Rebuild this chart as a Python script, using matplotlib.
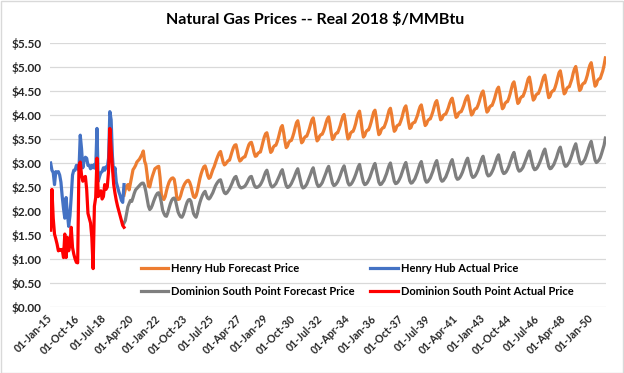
import pandas as pd
import numpy as np
from matplotlib import pyplot as plt
from matplotlib.patches import Rectangle

# monthly data, Jan-2015 .. Dec-2050 (category axis like the Excel original)
start_month = '2015-01-01'
end_month = '2050-12-01'
forecast_start = '2019-10-01'

# Henry Hub actual, Jan-2015 .. Oct-2019
hh_actual = [
    3.00, 2.85, 2.80, 2.55, 2.82, 2.80, 2.82, 2.75, 2.60, 2.30, 2.05, 1.85,
    2.28, 1.95, 1.68, 1.90, 2.30, 2.75, 2.85, 2.85, 2.95, 2.90, 2.85, 3.58,
    3.30, 2.90, 3.05, 3.12, 3.10, 2.95, 2.95, 2.88, 2.95, 2.90, 2.97, 2.88,
    3.72, 2.62, 2.72, 2.80, 2.82, 2.90, 2.85, 2.92, 2.90, 3.10, 4.07, 3.90,
    3.15, 2.75, 2.90, 2.60, 2.50, 2.40, 2.32, 2.22, 2.18, 2.55,
]

# Dominion South Point actual, Jan-2015 .. Oct-2019
dsp_actual = [
    1.60, 2.45, 1.85, 1.52, 1.42, 1.31, 1.17, 1.20, 1.18, 1.20, 1.03, 1.52,
    1.03, 1.45, 1.17, 1.30, 1.66, 1.24, 1.10, 1.00, 0.93, 0.92, 2.95, 3.02,
    2.75, 2.62, 2.70, 2.72, 2.45, 1.95, 1.85, 1.75, 1.45, 0.80, 2.10, 2.28,
    3.10, 2.30, 2.38, 2.42, 2.25, 2.30, 2.55, 2.45, 2.50, 2.83, 3.72, 3.30,
    2.90, 2.55, 2.37, 2.22, 2.10, 2.00, 1.90, 1.80, 1.70, 1.66,
]

# Henry Hub forecast, Oct-2019 .. Dec-2050
hh_forecast = [
    2.33, 2.45, 2.52,
    2.55, 2.44, 2.58, 2.72, 2.86, 2.90, 2.95, 3.02, 3.05, 3.08, 3.13, 3.18,
    3.25, 3.04, 2.96, 2.75, 2.52, 2.50, 2.62, 2.72, 2.80, 2.88, 2.90, 2.92,
    2.93, 2.70, 2.36, 2.26, 2.24, 2.30, 2.42, 2.52, 2.60, 2.65, 2.68, 2.69,
    2.66, 2.50, 2.28, 2.24, 2.25, 2.32, 2.42, 2.50, 2.56, 2.60, 2.63, 2.64,
    2.60, 2.52, 2.40, 2.30, 2.28, 2.32, 2.42, 2.55, 2.68, 2.78, 2.86, 2.92,
    2.94, 2.86, 2.74, 2.68, 2.70, 2.78, 2.86, 2.92, 3.00, 3.08, 3.15, 3.21,
    3.24, 3.13, 3.02, 2.96, 2.98, 3.02, 3.05, 3.06, 3.15, 3.24, 3.32, 3.37,
    3.38, 3.26, 3.12, 3.04, 3.06, 3.10, 3.12, 3.13, 3.21, 3.30, 3.38, 3.42,
    3.43, 3.34, 3.22, 3.14, 3.15, 3.20, 3.22, 3.23, 3.33, 3.44, 3.54, 3.61,
    3.63, 3.51, 3.34, 3.22, 3.25, 3.33, 3.36, 3.37, 3.44, 3.53, 3.64, 3.74,
    3.78, 3.64, 3.46, 3.32, 3.35, 3.43, 3.46, 3.47, 3.54, 3.63, 3.74, 3.84,
    3.88, 3.74, 3.56, 3.42, 3.45, 3.52, 3.55, 3.56, 3.63, 3.71, 3.81, 3.90,
    3.94, 3.80, 3.60, 3.46, 3.49, 3.56, 3.59, 3.60, 3.66, 3.74, 3.84, 3.92,
    3.96, 3.82, 3.63, 3.49, 3.52, 3.59, 3.62, 3.63, 3.70, 3.78, 3.88, 3.97,
    4.01, 3.86, 3.65, 3.50, 3.53, 3.62, 3.65, 3.66, 3.73, 3.82, 3.94, 4.03,
    4.08, 3.92, 3.70, 3.54, 3.57, 3.65, 3.68, 3.69, 3.76, 3.85, 3.96, 4.06,
    4.10, 3.95, 3.74, 3.59, 3.62, 3.70, 3.73, 3.74, 3.81, 3.89, 4.00, 4.10,
    4.14, 4.00, 3.80, 3.66, 3.69, 3.77, 3.79, 3.80, 3.87, 3.95, 4.06, 4.15,
    4.19, 4.05, 3.86, 3.72, 3.74, 3.82, 3.84, 3.85, 3.92, 3.99, 4.09, 4.17,
    4.21, 4.08, 3.91, 3.78, 3.81, 3.88, 3.91, 3.92, 3.99, 4.07, 4.17, 4.26,
    4.30, 4.18, 4.02, 3.90, 3.92, 3.99, 4.01, 4.02, 4.08, 4.15, 4.24, 4.31,
    4.35, 4.23, 4.07, 3.95, 3.97, 4.04, 4.06, 4.07, 4.13, 4.20, 4.29, 4.36,
    4.40, 4.28, 4.12, 4.00, 4.03, 4.10, 4.13, 4.14, 4.20, 4.28, 4.38, 4.46,
    4.50, 4.37, 4.19, 4.06, 4.09, 4.16, 4.19, 4.20, 4.27, 4.35, 4.45, 4.54,
    4.58, 4.45, 4.27, 4.13, 4.16, 4.24, 4.27, 4.28, 4.35, 4.44, 4.55, 4.65,
    4.69, 4.56, 4.38, 4.24, 4.27, 4.35, 4.38, 4.39, 4.46, 4.54, 4.65, 4.75,
    4.79, 4.65, 4.45, 4.31, 4.34, 4.41, 4.44, 4.45, 4.52, 4.60, 4.70, 4.79,
    4.83, 4.69, 4.50, 4.36, 4.39, 4.47, 4.50, 4.51, 4.58, 4.67, 4.78, 4.88,
    4.92, 4.78, 4.58, 4.44, 4.47, 4.55, 4.58, 4.59, 4.67, 4.75, 4.87, 4.96,
    5.01, 4.86, 4.66, 4.51, 4.54, 4.63, 4.66, 4.67, 4.74, 4.83, 4.95, 5.04,
    5.09, 4.94, 4.75, 4.60, 4.63, 4.72, 4.75, 4.76, 4.84, 4.92, 5.04, 5.19,
]

# Dominion South Point forecast, Oct-2019 .. Dec-2050
dsp_forecast = [
    1.75, 1.80, 1.95,
    2.09, 2.16, 2.22, 2.20, 2.28, 2.37, 2.44, 2.47, 2.50, 2.53, 2.56, 2.58,
    2.58, 2.52, 2.40, 2.25, 2.10, 2.03, 2.06, 2.12, 2.20, 2.27, 2.33, 2.37,
    2.38, 2.30, 2.18, 2.02, 1.95, 1.90, 1.89, 1.96, 2.06, 2.15, 2.22, 2.26,
    2.27, 2.22, 2.10, 1.98, 1.92, 1.88, 1.87, 1.92, 2.00, 2.10, 2.18, 2.23,
    2.24, 2.20, 2.08, 1.95, 1.90, 1.87, 1.95, 2.08, 2.18, 2.26, 2.33, 2.38,
    2.41, 2.33, 2.27, 2.25, 2.28, 2.33, 2.38, 2.45, 2.52, 2.57, 2.61, 2.64,
    2.65, 2.56, 2.45, 2.38, 2.36, 2.38, 2.42, 2.46, 2.52, 2.58, 2.65, 2.70,
    2.72, 2.64, 2.55, 2.50, 2.48, 2.49, 2.50, 2.52, 2.56, 2.61, 2.67, 2.71,
    2.72, 2.64, 2.55, 2.50, 2.49, 2.50, 2.52, 2.55, 2.60, 2.66, 2.74, 2.81,
    2.85, 2.75, 2.63, 2.54, 2.50, 2.51, 2.54, 2.57, 2.63, 2.69, 2.75, 2.82,
    2.86, 2.75, 2.63, 2.53, 2.49, 2.50, 2.53, 2.57, 2.63, 2.69, 2.76, 2.83,
    2.88, 2.76, 2.63, 2.53, 2.48, 2.49, 2.52, 2.56, 2.63, 2.70, 2.77, 2.85,
    2.90, 2.78, 2.66, 2.56, 2.51, 2.52, 2.55, 2.59, 2.66, 2.73, 2.80, 2.88,
    2.93, 2.81, 2.68, 2.58, 2.53, 2.54, 2.57, 2.61, 2.67, 2.74, 2.82, 2.89,
    2.94, 2.82, 2.69, 2.59, 2.54, 2.55, 2.58, 2.63, 2.69, 2.76, 2.84, 2.92,
    2.97, 2.84, 2.71, 2.60, 2.55, 2.56, 2.59, 2.64, 2.70, 2.78, 2.86, 2.94,
    2.99, 2.86, 2.72, 2.60, 2.55, 2.56, 2.60, 2.64, 2.71, 2.78, 2.87, 2.95,
    3.00, 2.87, 2.73, 2.62, 2.57, 2.58, 2.61, 2.66, 2.72, 2.80, 2.88, 2.96,
    3.01, 2.88, 2.74, 2.63, 2.58, 2.59, 2.63, 2.67, 2.74, 2.81, 2.90, 2.98,
    3.03, 2.90, 2.76, 2.65, 2.60, 2.61, 2.65, 2.69, 2.76, 2.83, 2.92, 3.00,
    3.05, 2.92, 2.78, 2.67, 2.62, 2.63, 2.67, 2.71, 2.78, 2.85, 2.94, 3.02,
    3.07, 2.95, 2.82, 2.71, 2.66, 2.67, 2.70, 2.75, 2.81, 2.89, 2.97, 3.05,
    3.10, 2.98, 2.85, 2.75, 2.70, 2.71, 2.74, 2.79, 2.85, 2.93, 3.01, 3.09,
    3.14, 3.02, 2.89, 2.78, 2.73, 2.74, 2.77, 2.82, 2.88, 2.96, 3.04, 3.12,
    3.17, 3.05, 2.93, 2.83, 2.78, 2.79, 2.82, 2.87, 2.93, 3.01, 3.09, 3.17,
    3.22, 3.10, 2.98, 2.88, 2.83, 2.84, 2.87, 2.91, 2.98, 3.05, 3.12, 3.20,
    3.25, 3.13, 3.01, 2.91, 2.86, 2.87, 2.90, 2.95, 3.01, 3.08, 3.16, 3.24,
    3.29, 3.17, 3.04, 2.93, 2.88, 2.89, 2.93, 2.97, 3.04, 3.11, 3.20, 3.28,
    3.33, 3.21, 3.08, 2.98, 2.93, 2.94, 2.98, 3.02, 3.09, 3.17, 3.26, 3.34,
    3.40, 3.27, 3.14, 3.03, 2.98, 2.99, 3.03, 3.07, 3.14, 3.22, 3.31, 3.39,
    3.45, 3.32, 3.18, 3.06, 3.01, 3.03, 3.06, 3.11, 3.19, 3.28, 3.37, 3.52,
]

title = 'Natural Gas Prices -- Real 2018 $/MMBtu'
label_every = 21


def gas_plot():
    plt.rcParams['font.family'] = ['Lato', 'DejaVu Sans']
    months = pd.date_range(start_month, end_month, freq='MS')
    fc0 = months.get_loc(pd.Timestamp(forecast_start))

    x_act = np.arange(len(hh_actual))
    x_fc = np.arange(fc0, fc0 + len(hh_forecast))

    fig = plt.figure(figsize=(6.24, 3.73), dpi=100)
    ax = fig.add_axes([50 / 624, 1 - 307 / 373, 556 / 624, 264 / 373])

    ax.plot(x_fc, hh_forecast, color='#ED7D31', lw=2.3, label='Henry Hub Forecast Price')
    ax.plot(x_act, hh_actual, color='#4472C4', lw=2.3, label='Henry Hub Actual Price')
    ax.plot(x_fc, dsp_forecast, color='#7F7F7F', lw=2.3, label='Dominion South Point Forecast Price')
    ax.plot(x_act, dsp_actual, color='#FF0000', lw=2.3, label='Dominion South Point Actual Price')

    ax.set_xlim(-0.5, len(months) - 0.5)
    ax.set_ylim(0, 5.5)
    yt = np.arange(0, 5.51, 0.5)
    ax.set_yticks(yt)
    ax.set_yticklabels(['$%.2f' % v for v in yt], fontsize=8.5, fontweight='bold', color='#262626')
    tick_pos = np.arange(0, len(months), label_every)
    ax.set_xticks(tick_pos)
    ax.set_xticklabels(months[tick_pos].strftime('%d-%b-%y'), rotation=45, ha='right',
                       va='center', rotation_mode='anchor', fontsize=7.7, fontweight='bold',
                       color='#262626')
    ax.tick_params(axis='both', length=0)
    ax.tick_params(axis='y', pad=6)
    ax.tick_params(axis='x', pad=7)
    ax.grid(axis='y', color='#D9D9D9', lw=0.9)
    ax.set_axisbelow(True)
    for s in ax.spines.values():
        s.set_visible(False)

    fig.text(0.505, 0.948, title, ha='center', va='center', fontsize=11.5, fontweight='bold')

    h, l = ax.get_legend_handles_labels()
    order = [0, 2, 1, 3]
    ax.legend([h[i] for i in order], [l[i] for i in order], ncol=2, frameon=False,
              loc='lower left', bbox_to_anchor=(0.145, 0.0),
              prop={'size': 8, 'weight': 'bold'}, handlelength=2.5, handletextpad=0.25,
              columnspacing=1.4, labelspacing=1.05)

    fig.add_artist(Rectangle((0.001, 0.001), 0.997, 0.996, transform=fig.transFigure,
                             fill=False, edgecolor='#D9D9D9', lw=1))

    fig.savefig('out.png', dpi=100)
    return fig


if __name__ == '__main__':
    gas_plot()
